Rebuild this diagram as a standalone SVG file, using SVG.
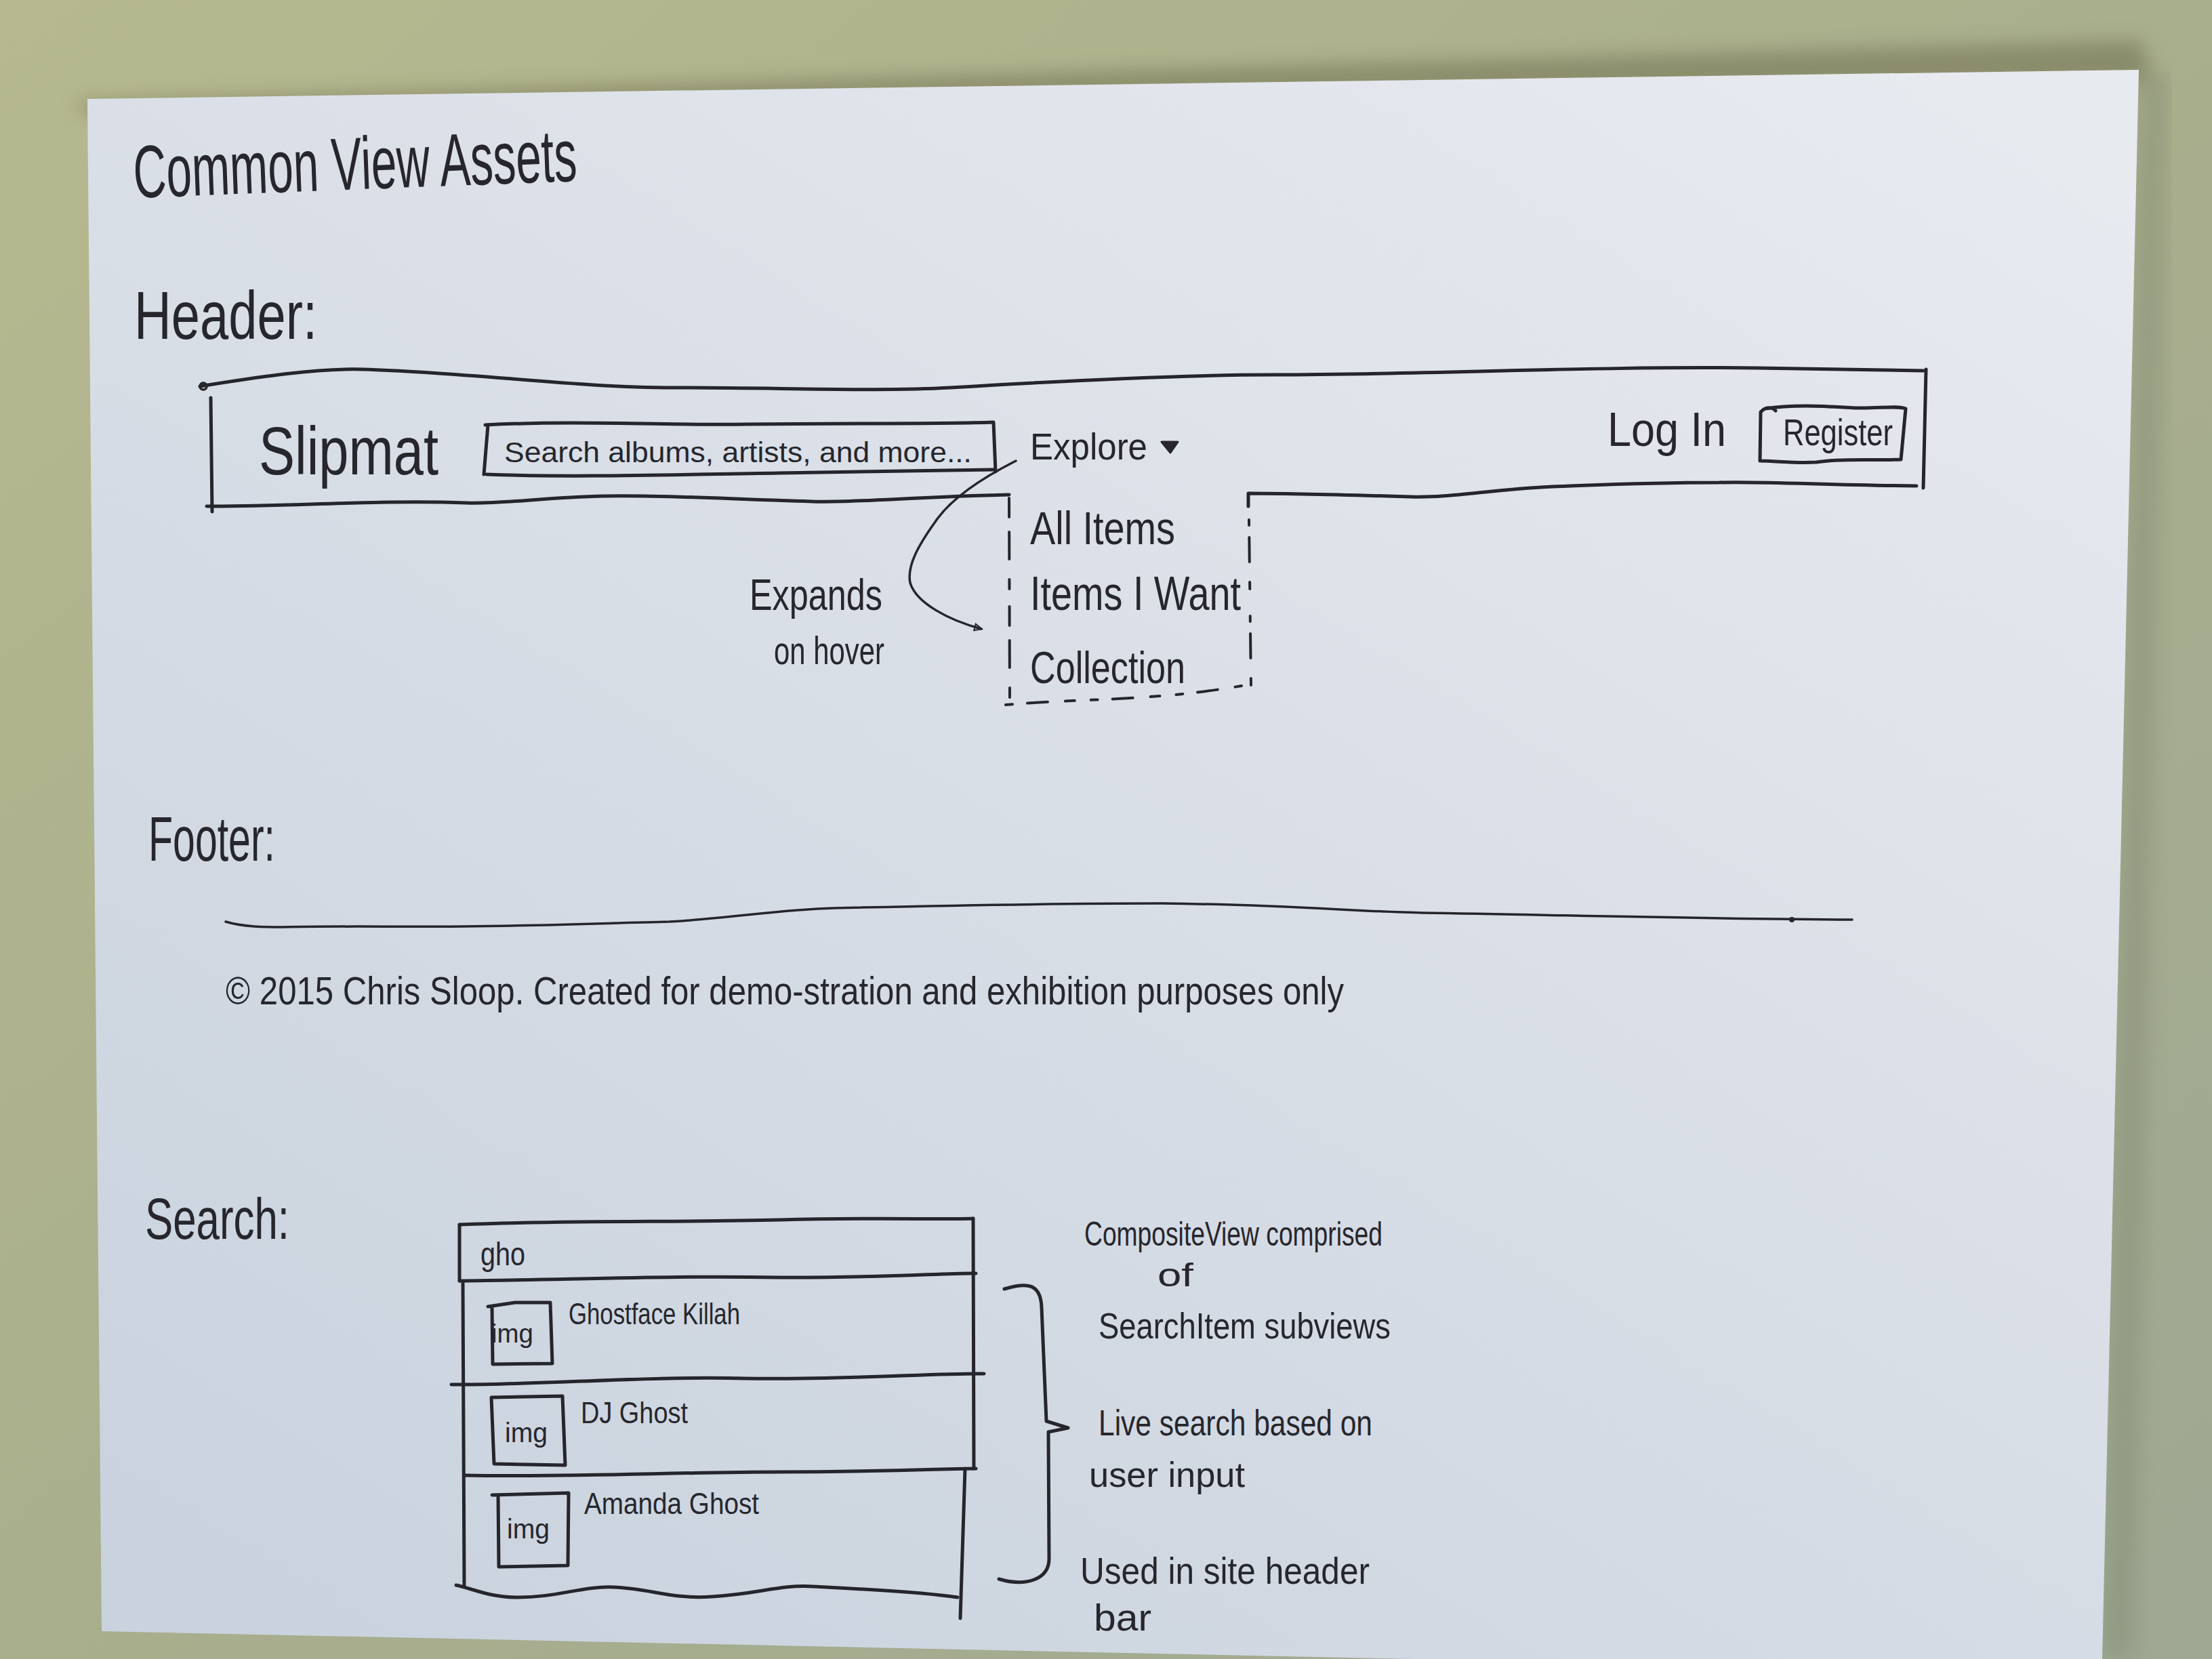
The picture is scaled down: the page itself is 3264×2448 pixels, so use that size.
<svg xmlns="http://www.w3.org/2000/svg" width="3264" height="2448" viewBox="0 0 3264 2448">
  <defs>
    <linearGradient id="bg" x1="0" y1="0" x2="1" y2="1">
      <stop offset="0" stop-color="#b6b98f"/>
      <stop offset="0.5" stop-color="#a9ae8c"/>
      <stop offset="1" stop-color="#9ea893"/>
    </linearGradient>
    <linearGradient id="paper" x1="0.9" y1="0" x2="0.1" y2="1">
      <stop offset="0" stop-color="#e7eaef"/>
      <stop offset="0.45" stop-color="#dadfe7"/>
      <stop offset="1" stop-color="#c9d2de"/>
    </linearGradient>
    <filter id="soft" x="-5%" y="-50%" width="110%" height="200%">
      <feGaussianBlur stdDeviation="14"/>
    </filter>
    <marker id="openHead" viewBox="0 0 20 20" refX="16" refY="10" markerWidth="14" markerHeight="14" markerUnits="userSpaceOnUse" orient="auto">
      <path d="M2,3 L17,10 L2,17 Z" fill="none" stroke="#25252b" stroke-width="3"/>
    </marker>
    <style>
      .ink { fill: none; stroke: #25252b; stroke-width: 5; stroke-linecap: round; stroke-linejoin: round; }
      .thin { fill: none; stroke: #25252b; stroke-width: 3.5; stroke-linecap: round; stroke-linejoin: round; }
      .dash { fill: none; stroke: #25252b; stroke-width: 4; stroke-linecap: round; }
      text { font-family: "Liberation Sans", "DejaVu Sans", sans-serif; fill: #26262c; }
    </style>
  </defs>

  <!-- table surface -->
  <rect x="0" y="0" width="3264" height="2448" fill="url(#bg)"/>
  <!-- shadow cast by the sheet -->
  <polygon points="110,150 3160,60 3175,120 129,170" fill="#6f6f4f" opacity="0.55" filter="url(#soft)"/>
  <polygon points="3156,110 3200,110 3150,2448 3102,2448" fill="#7f8670" opacity="0.4" filter="url(#soft)"/>
  <!-- sheet of paper -->
  <polygon points="129,146 3156,103 3102,2448 2083,2448 150,2407" fill="url(#paper)"/>

  <!-- page title -->
  <g id="title">
    <text x="198" y="292" font-size="110" textLength="655" lengthAdjust="spacingAndGlyphs" transform="rotate(-2.2 198 292)">Common View Assets</text>
  </g>

  <!-- Header section -->
  <g id="header-label">
    <text x="198" y="500" font-size="100" textLength="270" lengthAdjust="spacingAndGlyphs">Header:</text>
  </g>

  <g id="header-bar">
    <path class="ink" d="M295,570 C360,560 460,543 535,545 C700,550 850,572 994,572 C1150,572 1300,578 1402,572 C1600,560 1750,553 1880,553 C2100,553 2350,540 2593,543 L2838,547"/>
    <path class="ink" d="M2842,545 L2838,720"/>
    <path class="ink" d="M2828,717 C2700,716 2600,710 2537,712 C2420,712 2350,716 2291,718 C2200,722 2140,735 2081,733 C1980,730 1900,728 1842,728 L1842,747"/>
    <path class="ink" d="M1489,730 C1350,733 1260,742 1198,740 C1080,737 980,730 892,732 C800,734 740,744 688,742 C560,737 420,748 305,747"/>
    <path class="ink" d="M311,587 L313,755"/>
    <circle cx="300" cy="570" r="5" class="thin"/>
  </g>

  <g id="logo">
    <text x="382" y="700" font-size="100" textLength="265" lengthAdjust="spacingAndGlyphs">Slipmat</text>
  </g>

  <g id="search-input">
    <path class="ink" d="M720,627 L714,700 M716,627 C850,620 1000,628 1100,626 C1250,624 1380,626 1466,623 L1469,696 M718,700 C850,705 1000,700 1150,698 C1300,696 1400,694 1466,693"/>
    <text x="744" y="682" font-size="42" textLength="690" lengthAdjust="spacingAndGlyphs">Search albums, artists, and more...</text>
  </g>

  <g id="explore-menu">
    <text x="1520" y="678" font-size="56" textLength="173" lengthAdjust="spacingAndGlyphs">Explore</text>
    <path d="M1714,652 L1738,652 L1727,668 Z" fill="#26262c" stroke="#26262c" stroke-width="3" stroke-linejoin="round"/>
  </g>

  <g id="login">
    <text x="2372" y="658" font-size="70" textLength="175" lengthAdjust="spacingAndGlyphs">Log In</text>
  </g>

  <g id="register-button">
    <path class="ink" d="M2605,603 C2650,596 2700,600 2740,602 C2770,603 2800,598 2812,603 L2805,678 C2760,680 2720,676 2680,682 C2650,684 2620,680 2597,680 L2598,608 C2605,600 2615,600 2620,606"/>
    <text x="2631" y="657" font-size="56" textLength="162" lengthAdjust="spacingAndGlyphs">Register</text>
  </g>

  <!-- expanded dropdown (dashed) -->
  <g id="explore-dropdown">
    <path class="dash" d="M1489,735 L1490,1037" stroke-dasharray="28 22 40 30 14 26"/>
    <path class="dash" d="M1843,767 L1846,1013" stroke-dasharray="8 18 36 30 10 40"/>
    <path class="dash" d="M1484,1040 C1600,1030 1700,1035 1832,1012" stroke-dasharray="10 22 30 26 14 24"/>
    <text x="1520" y="803" font-size="68" textLength="214" lengthAdjust="spacingAndGlyphs">All Items</text>
    <text x="1520" y="900" font-size="70" textLength="311" lengthAdjust="spacingAndGlyphs">Items I Want</text>
    <text x="1520" y="1008" font-size="66" textLength="229" lengthAdjust="spacingAndGlyphs">Collection</text>
  </g>

  <g id="expands-note">
    <text x="1106" y="900" font-size="64" textLength="196" lengthAdjust="spacingAndGlyphs">Expands</text>
    <text x="1142" y="980" font-size="58" textLength="163" lengthAdjust="spacingAndGlyphs">on hover</text>
  </g>

  <!-- Footer section -->
  <g id="footer-label">
    <text x="219" y="1270" font-size="92" textLength="187" lengthAdjust="spacingAndGlyphs">Footer:</text>
  </g>

  <g id="footer">
    <path class="thin" d="M333,1360 C360,1368 390,1368 418,1368 C500,1366 600,1368 685,1367 C800,1366 900,1362 988,1360 C1080,1355 1150,1342 1230,1340 C1400,1336 1550,1333 1715,1333 C1900,1335 2000,1345 2100,1347 C2300,1350 2500,1356 2733,1357"/>
    <circle cx="2644" cy="1357" r="4" fill="#26262c"/>
    <text x="333" y="1482" font-size="58" textLength="1650" lengthAdjust="spacingAndGlyphs">© 2015 Chris Sloop. Created for demo-stration and exhibition purposes only</text>
  </g>

  <!-- Search section -->
  <g id="search-label">
    <text x="214" y="1828" font-size="85" textLength="213" lengthAdjust="spacingAndGlyphs">Search:</text>
  </g>

  <g id="search-panel">
    <path class="ink" d="M678,1807 C850,1800 1000,1804 1150,1800 C1300,1796 1380,1800 1436,1798"/>
    <path class="ink" d="M678,1807 L678,1890"/>
    <path class="ink" d="M683,1893 L685,2341"/>
    <path class="ink" d="M678,1890 C850,1888 1000,1882 1150,1885 C1300,1886 1400,1878 1440,1879"/>
    <path class="ink" d="M1436,1798 L1437,2167"/>
    <path class="ink" d="M1424,2167 L1417,2388"/>
    <path class="ink" d="M666,2043 C800,2044 950,2030 1100,2034 C1250,2036 1380,2026 1452,2027"/>
    <path class="ink" d="M686,2177 C850,2180 1000,2172 1150,2172 C1300,2172 1400,2167 1440,2167"/>
    <path class="ink" d="M673,2339 C700,2345 720,2356 760,2357 C820,2358 860,2340 905,2342 C960,2344 990,2360 1050,2356 C1120,2352 1150,2338 1200,2341 C1300,2346 1380,2352 1413,2357"/>
  </g>

  <g id="search-query">
    <text x="709" y="1867" font-size="48" textLength="66" lengthAdjust="spacingAndGlyphs">gho</text>
  </g>

  <g id="search-item-1">
    <path class="ink" d="M720,1928 L760,1922 L812,1922 L815,2012 L727,2013 L726,1930"/>
    <text x="725" y="1981" font-size="38" textLength="62" lengthAdjust="spacingAndGlyphs">img</text>
    <text x="839" y="1954" font-size="44" textLength="253" lengthAdjust="spacingAndGlyphs">Ghostface Killah</text>
  </g>

  <g id="search-item-2">
    <path class="ink" d="M725,2062 L830,2060 L834,2162 L729,2160 Z"/>
    <text x="745" y="2128" font-size="40" textLength="63" lengthAdjust="spacingAndGlyphs">img</text>
    <text x="857" y="2100" font-size="44" textLength="158" lengthAdjust="spacingAndGlyphs">DJ Ghost</text>
  </g>

  <g id="search-item-3">
    <path class="ink" d="M726,2206 L839,2203 L838,2310 L736,2312 L735,2206"/>
    <text x="748" y="2270" font-size="40" textLength="63" lengthAdjust="spacingAndGlyphs">img</text>
    <text x="862" y="2234" font-size="44" textLength="258" lengthAdjust="spacingAndGlyphs">Amanda Ghost</text>
  </g>

  <g id="search-notes">
    <text x="1600" y="1838" font-size="50" textLength="440" lengthAdjust="spacingAndGlyphs">CompositeView comprised</text>
    <text x="1708" y="1898" font-size="48" textLength="53" lengthAdjust="spacingAndGlyphs">of</text>
    <text x="1621" y="1975" font-size="54" textLength="431" lengthAdjust="spacingAndGlyphs">SearchItem subviews</text>
    <text x="1621" y="2118" font-size="54" textLength="404" lengthAdjust="spacingAndGlyphs">Live search based on</text>
    <text x="1607" y="2194" font-size="52" textLength="230" lengthAdjust="spacingAndGlyphs">user input</text>
    <text x="1594" y="2337" font-size="56" textLength="427" lengthAdjust="spacingAndGlyphs">Used in site header</text>
    <text x="1614" y="2406" font-size="56" textLength="85" lengthAdjust="spacingAndGlyphs">bar</text>
  </g>

  <!-- connectors: hover arrow and grouping brace -->
  <g id="connectors">
    <path class="thin" d="M1499,680 C1440,710 1400,740 1380,770 C1355,805 1338,835 1343,860 C1352,890 1400,915 1448,928" marker-end="url(#openHead)"/>
    <path class="ink" d="M1482,1902 C1515,1892 1536,1893 1537,1930 L1544,2097 L1576,2107 L1547,2113 L1548,2300 C1548,2330 1515,2342 1474,2330"/>
  </g>
</svg>
